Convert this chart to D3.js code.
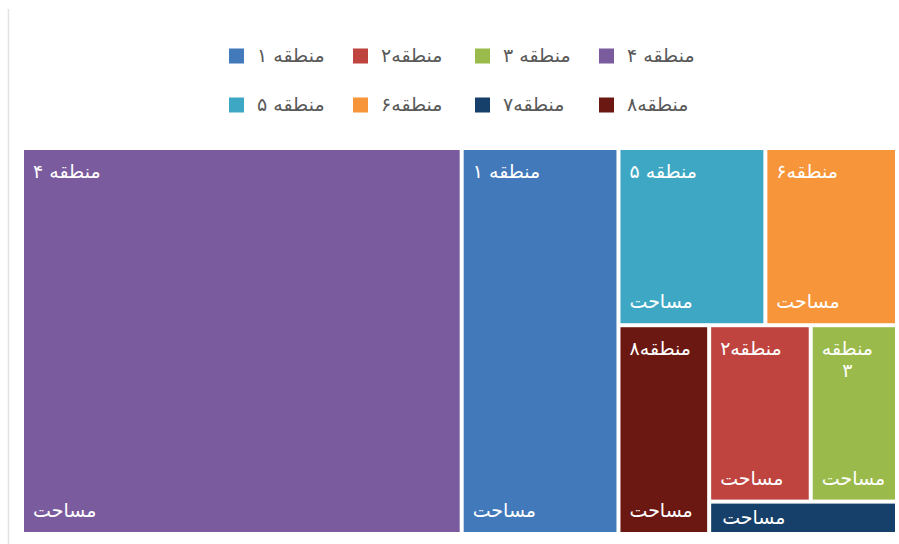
<!DOCTYPE html>
<html>
<head>
<meta charset="utf-8">
<script src="https://cdn.jsdelivr.net/npm/d3@7"></script>
<style>
  html, body { margin: 0; padding: 0; background: #fff; }
  svg { display: block; font-family: "DejaVu Sans", sans-serif; }
</style>
</head>
<body>
<svg id="chart" width="899" height="544"></svg>
<script>
// ---- data ----
const categories = ["منطقه ۱", "منطقه۲", "منطقه ۳", "منطقه ۴", "منطقه ۵", "منطقه۶", "منطقه۷", "منطقه۸"];
const values = [179, 53, 45, 502, 77, 69, 18, 56];
const colors = ["#4279BA", "#BF4440", "#9ABB4B", "#7A5B9D", "#3EA8C4", "#F7953A", "#163F69", "#6B1712"];
const valueLabel = "مساحت";
// number of cells per strip in the layout
const stripSizes = [1, 1, 2, 1, 2, 1];

const W = 899, H = 544;
const svg = d3.select("#chart");

// left border line
svg.append("line").attr("x1", 8.5).attr("x2", 8.5).attr("y1", 9).attr("y2", H)
  .attr("stroke", "#e2e2e2").attr("stroke-width", 1.5);

// ---- legend ----
const legendRows = [0, 1, 2, 3, 4, 5, 6, 7];
const legX = d3.scaleOrdinal().domain([0, 1, 2, 3]).range([229, 353, 475, 599]);
const legY = d3.scaleOrdinal().domain([0, 1]).range([56, 105]);
const legend = svg.append("g");
const li = legend.selectAll("g").data(legendRows).join("g")
  .attr("transform", i => `translate(${legX(i % 4)},${legY(Math.floor(i / 4))})`);
li.append("rect").attr("x", 0).attr("y", -7.5).attr("width", 15).attr("height", 15)
  .attr("fill", i => colors[i]);
li.append("text").attr("x", 28).attr("y", 6).attr("font-size", 19).attr("fill", "#595959")
  .text(i => categories[i]);

// ---- treemap ----
function stripTile(parent, x0, y0, x1, y1) {
  const nodes = parent.children;
  let value = parent.value, i = 0;
  for (const k of stripSizes) {
    if (i >= nodes.length) break;
    const row = { children: nodes.slice(i, i + k) };
    row.value = d3.sum(row.children, d => d.value);
    const dx = x1 - x0, dy = y1 - y0;
    if (dx < dy) {
      const ny = (i + k >= nodes.length) ? y1 : y0 + dy * row.value / value;
      d3.treemapDice(row, x0, y0, x1, ny); y0 = ny;
    } else {
      const nx = (i + k >= nodes.length) ? x1 : x0 + dx * row.value / value;
      d3.treemapSlice(row, x0, y0, nx, y1); x0 = nx;
    }
    value -= row.value; i += k;
  }
}

const data = categories.map((c, i) => ({ name: c, value: values[i], color: colors[i] }));
const root = d3.hierarchy({ children: data })
  .sum(d => d.value || 0)
  .sort((a, b) => b.value - a.value);

d3.treemap().tile(stripTile).size([871, 382]).paddingInner(4)(root);

const g = svg.append("g").attr("transform", "translate(24,150)");
const cell = g.selectAll("g").data(root.leaves()).join("g")
  .attr("transform", d => `translate(${d.x0},${d.y0})`);

cell.append("rect")
  .attr("width", d => d.x1 - d.x0)
  .attr("height", d => d.y1 - d.y0)
  .attr("fill", d => d.data.color);

const fs = 19, pad = 9, lh = 22;
cell.each(function (d) {
  const sel = d3.select(this);
  const w = d.x1 - d.x0, h = d.y1 - d.y0;
  if (h < 60) {
    sel.append("text").attr("x", pad + 2).attr("y", h / 2 + 6)
      .attr("font-size", fs).attr("fill", "#fff").text(valueLabel);
    return;
  }
  // category name, wrapped if too wide
  const t = sel.append("text").attr("font-size", fs).attr("fill", "#fff")
    .attr("x", pad).attr("y", 28).text(d.data.name);
  const tw = t.node().getComputedTextLength();
  if (tw > w - 2 * pad) {
    const words = d.data.name.split(" ");
    t.text(null);
    const widths = words.map(wd => {
      const tmp = sel.append("text").attr("font-size", fs).text(wd);
      const ww = tmp.node().getComputedTextLength(); tmp.remove(); return ww;
    });
    const cx = pad + d3.max(widths) / 2;
    t.attr("text-anchor", "middle");
    words.forEach((wd, j) => {
      t.append("tspan").attr("x", cx).attr("y", 28 + j * lh).text(wd);
    });
  }
  sel.append("text").attr("font-size", fs).attr("fill", "#fff")
    .attr("x", pad).attr("y", h - 15).text(valueLabel);
});
</script>
</body>
</html>
